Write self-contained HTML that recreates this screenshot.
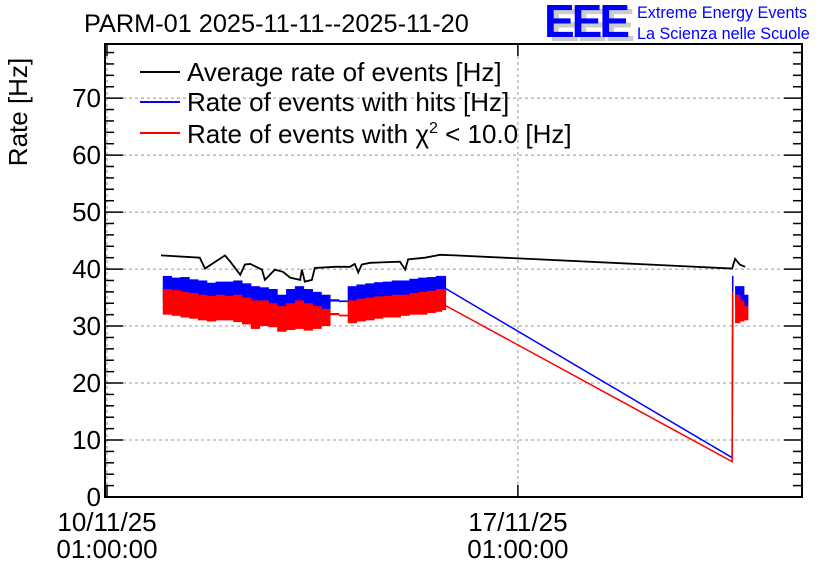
<!DOCTYPE html>
<html><head><meta charset="utf-8"><style>
body{margin:0;background:#fff;}
svg{display:block;font-family:"Liberation Sans",sans-serif;}
</style></head><body>
<svg id="chart" width="836" height="572" viewBox="0 0 836 572">
<rect width="836" height="572" fill="#fff"/>
<g id="grid"></g>
<g id="series"></g>
<g id="axes"></g>
<text x="84" y="32" font-size="25.3" fill="#000">PARM-01 2025-11-11--2025-11-20</text>
<text transform="translate(27,112) rotate(-90)" text-anchor="middle" font-size="26">Rate [Hz]</text>
<g>
<text x="549" y="41" font-size="46" font-weight="bold" fill="#ccc" letter-spacing="-3">EEE</text>
<text x="544" y="37" font-size="46" font-weight="bold" fill="#00f" letter-spacing="-3">EEE</text>
<text x="637" y="18" font-size="16.2" fill="#00f">Extreme Energy Events</text>
<text x="637" y="39" font-size="16.2" fill="#00f">La Scienza nelle Scuole</text>
</g>
<g>
<line x1="140" y1="72" x2="180" y2="72" stroke="#000" stroke-width="2"/>
<text x="187" y="81" font-size="26">Average rate of events [Hz]</text>
<line x1="140" y1="102" x2="180" y2="102" stroke="#00f" stroke-width="2"/>
<text x="187" y="111" font-size="26">Rate of events with hits [Hz]</text>
<line x1="140" y1="133" x2="180" y2="133" stroke="#f00" stroke-width="2"/>
<text x="187" y="143" font-size="26">Rate of events with χ<tspan font-size="16" dy="-10">2</tspan><tspan dy="10"> &lt; 10.0 [Hz]</tspan></text>
</g>
</svg>
<script>
// data (time in days since 10/11/25 01:00:00)
const yTicks=[0,10,20,30,40,50,60,70];
const xTickTimes=[0,7];
const xTickDates=["10/11/25","17/11/25"];
const xTickTimesLabel=["01:00:00","01:00:00"];
const avgT=[0.92,1.58,1.67,2.01,2.10,2.27,2.35,2.44,2.64,2.69,2.86,3.00,3.12,3.29,3.32,3.37,3.49,3.54,3.88,4.14,4.22,4.28,4.34,4.48,4.99,5.08,5.13,5.42,5.67,5.93,10.65,10.70,10.78,10.87];
const avgV=[42.4,42.0,40.1,42.4,41.3,39.0,40.8,40.9,39.9,38.1,39.9,39.5,38.5,38.1,39.9,37.8,38.1,40.2,40.4,40.4,40.9,39.4,40.8,41.1,41.3,39.9,41.7,42.0,42.5,42.4,40.1,41.8,40.8,40.4];
const binT=[0.95,1.10,1.25,1.40,1.55,1.70,1.85,2.00,2.15,2.30,2.45,2.60,2.75,2.90,3.05,3.20,3.35,3.50,3.65,3.80,3.95,4.10,4.25,4.40,4.55,4.70,4.85,5.00,5.15,5.30,5.45,5.60,5.70];
const hitsHi=[38.8,38.5,38.6,38.2,38.0,37.6,37.8,37.8,38.0,37.5,37.0,36.8,36.5,35.5,36.5,37.0,36.5,36.0,35.5,34.7,34.5,37.0,37.3,37.5,37.7,37.8,38.0,38.0,38.3,38.5,38.6,38.8,38.8];
const hitsLo=[34.5,34.3,34.0,34.0,33.8,33.5,33.8,33.7,33.5,33.0,32.5,33.0,32.8,32.0,32.5,33.0,32.5,32.5,33.0,34.3,34.2,33.5,33.8,34.0,34.2,34.5,34.5,34.8,34.8,35.0,35.2,35.5,35.8];
const chiHi=[36.5,36.3,36.0,35.8,35.5,35.3,35.5,35.3,35.5,35.0,34.5,34.5,34.0,33.5,34.0,34.5,34.0,33.5,33.0,32.3,32.0,34.5,34.8,35.0,35.2,35.3,35.5,35.5,35.8,36.0,36.2,36.5,36.5];
const chiLo=[32.0,31.8,31.5,31.3,31.0,30.8,31.0,31.0,30.7,30.3,29.5,30.0,29.8,29.0,29.3,29.5,29.2,29.5,30.0,31.9,31.7,30.5,30.8,31.0,31.3,31.5,31.5,31.8,32.0,32.0,32.3,32.5,32.8];
const hitsLineT=[5.75,10.65,10.66];
const hitsLineV=[36.7,6.9,38.8];
const chiLineT=[5.75,10.65,10.66];
const chiLineV=[33.7,6.2,36.0];
const tailT=[10.70,10.78,10.85];
const tailHitsHi=[37.0,37.0,35.5];
const tailHitsLo=[33.5,33.0,33.0];
const tailChiHi=[35.5,34.5,33.5];
const tailChiLo=[30.5,30.8,31.0];

const L=105,R=802,T=44,B=497,YMAX=79.5,PXD=58.7;
const X=t=>107+t*PXD;
const Y=v=>B-(v/YMAX)*(B-T);
const NS="http://www.w3.org/2000/svg";
function mk(tag,at,parent){const e=document.createElementNS(NS,tag);for(const k in at)e.setAttribute(k,at[k]);parent.appendChild(e);return e;}
const grid=document.getElementById('grid'),ser=document.getElementById('series'),ax=document.getElementById('axes');
yTicks.forEach(v=>{if(v===0)return;const l=mk('line',{x1:L,x2:R,y1:Y(v),y2:Y(v),stroke:'#999','stroke-dasharray':'3,3','stroke-width':1},grid);

});
xTickTimes.forEach(t=>{const l=mk('line',{x1:X(t),x2:X(t),y1:T,y2:B,stroke:'#999','stroke-dasharray':'3,3','stroke-width':1},grid);

});
function band(ts,hi,lo,col,name){for(let i=0;i<ts.length;i++){const w=(i<ts.length-1?X(ts[i+1])-X(ts[i]):4);const r=mk('rect',{x:X(ts[i]),y:Y(hi[i]),width:Math.max(w,2)+0.5,height:Y(lo[i])-Y(hi[i]),fill:col},ser);

}}
function line(ts,vs,col,name,w){const p=mk('polyline',{points:ts.map((t,i)=>X(t)+','+Y(vs[i])).join(' '),fill:'none',stroke:col,'stroke-width':w},ser);

}
band(binT,hitsHi,hitsLo,'#00f','hits-band');
band(binT,chiHi,chiLo,'#f00','chi2-band');
line(hitsLineT,hitsLineV,'#00f','hits-line',1.5);
line(chiLineT,chiLineV,'#f00','chi2-line',1.5);
band(tailT,tailHitsHi,tailHitsLo,'#00f','hits-tail');
band(tailT,tailChiHi,tailChiLo,'#f00','chi2-tail');
line(avgT,avgV,'#000','average-line',1.8);
const f=mk('rect',{x:L,y:T,width:R-L,height:B-T,fill:'none',stroke:'#000','stroke-width':2},ax);


for(let v=0;v<=YMAX;v+=2){const maj=v%10===0;const len=maj?18:9;
const a=mk('line',{x1:L,x2:L+len,y1:Y(v),y2:Y(v),stroke:'#000','stroke-width':1.5},ax);


const b=mk('line',{x1:R-len,x2:R,y1:Y(v),y2:Y(v),stroke:'#000','stroke-width':1.5},ax);

}
yTicks.forEach(v=>{const t=mk('text',{x:L-4,y:Y(v)+9,'text-anchor':'end','font-size':26},ax);t.textContent=v;

});
xTickTimes.forEach((tt,i)=>{const x=X(tt);
const a=mk('line',{x1:x,x2:x,y1:B-12,y2:B,stroke:'#000','stroke-width':1.5},ax);


const b=mk('line',{x1:x,x2:x,y1:T,y2:T+12,stroke:'#000','stroke-width':1.5},ax);


const t1=mk('text',{x:x,y:531,'text-anchor':'middle','font-size':26},ax);t1.textContent=xTickDates[i];


const t2=mk('text',{x:x,y:558,'text-anchor':'middle','font-size':26},ax);t2.textContent=xTickTimesLabel[i];

});
</script>
</body></html>
